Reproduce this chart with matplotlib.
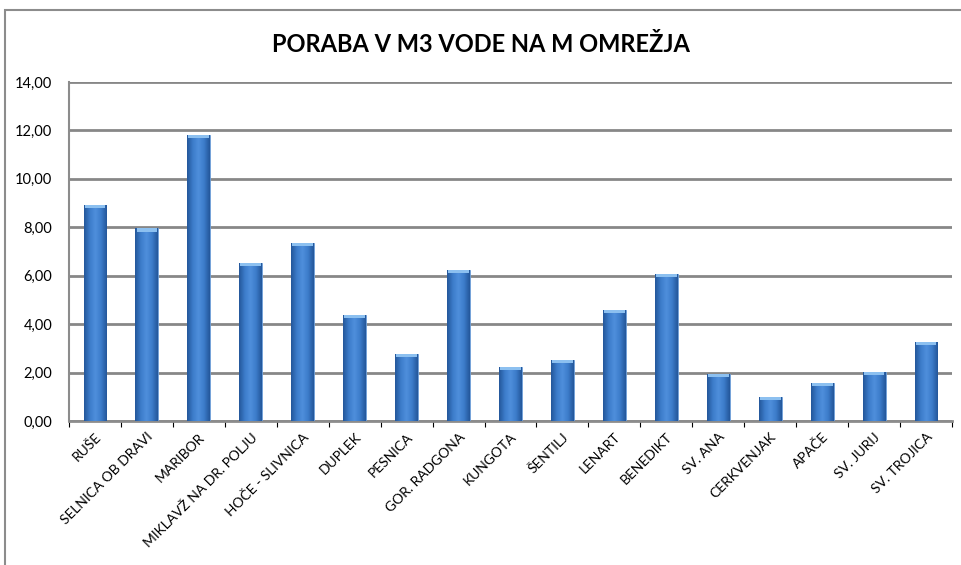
import numpy as np
from matplotlib import pyplot as plt
from matplotlib.patches import Rectangle
from matplotlib.colors import LinearSegmentedColormap

plt.rcParams['font.family'] = ['Lato', 'DejaVu Sans']

kraji = ['RUŠE', 'SELNICA OB DRAVI', 'MARIBOR', 'MIKLAVŽ NA DR. POLJU',
         'HOČE - SLIVNICA', 'DUPLEK', 'PESNICA', 'GOR. RADGONA', 'KUNGOTA',
         'ŠENTILJ', 'LENART', 'BENEDIKT', 'SV. ANA', 'CERKVENJAK', 'APAČE',
         'SV. JURIJ', 'SV. TROJICA']
poraba = [8.93, 7.95, 11.80, 6.52, 7.34, 4.37, 2.77, 6.24, 2.22,
          2.51, 4.57, 6.09, 1.93, 0.98, 1.56, 2.04, 3.25]
y_ticks = [0, 2, 4, 6, 8, 10, 12, 14]

# cylinder-like shading across the bar
cmap_bar = LinearSegmentedColormap.from_list(
    'bar', ['#24579a', '#3c7cca', '#4f8fdc', '#3c7cca', '#24579a'])
grad = np.linspace(0, 1, 64).reshape(1, -1)

fig = plt.figure(figsize=(9.61, 5.65), dpi=100)
# chart frame
fig.patches.append(Rectangle((5/961, -0.1), 1.2, 1 - 10/565 + 0.1,
                             transform=fig.transFigure, fill=False,
                             edgecolor='#8c8c8c', linewidth=1.5))
fig.text(0.5, 1 - 45/565, 'PORABA V M3 VODE NA M OMREŽJA', ha='center',
         va='center', fontsize=17, fontweight='bold')

ax = fig.add_axes([69/961, 1 - 421/565, (952 - 69)/961, (421 - 82)/565])
x = np.arange(len(kraji))
w = 0.44
bars = ax.bar(x, poraba, width=w, color='#3c7cca', edgecolor='#6f9fd8',
              linewidth=0.6, zorder=3)
for b, v in zip(bars, poraba):
    x0 = b.get_x()
    im = ax.imshow(grad, cmap=cmap_bar, aspect='auto', zorder=3.5,
                   extent=[x0, x0 + w, 0, v], interpolation='bicubic')
    im.set_clip_path(b)
    # light top cap
    ax.fill_between([x0 + 0.02, x0 + w - 0.02], v - 0.13, v,
                    color='#8cc0f0', zorder=4, linewidth=0)

ax.set_xlim(-0.5, len(kraji) - 0.5)
ax.set_ylim(0, 14)
ax.set_yticks(y_ticks)
ax.set_yticklabels([f'{t:.2f}'.replace('.', ',') for t in y_ticks], fontsize=10.5)
ax.yaxis.grid(True, color='#878787', linewidth=2, zorder=0)
ax.tick_params(axis='y', length=0, pad=12)
ax.set_xticks(x)
ax.set_xticklabels(kraji, rotation=45, ha='right', rotation_mode='anchor',
                   fontsize=10)
ax.tick_params(axis='x', length=0, pad=7)
ax.set_xticks(np.arange(len(kraji) + 1) - 0.5, minor=True)
ax.tick_params(axis='x', which='minor', length=4, color='black', width=0.8)
for s in ['top', 'right']:
    ax.spines[s].set_visible(False)
ax.spines['left'].set_color('#8c8c8c')
ax.spines['left'].set_linewidth(1.5)
ax.spines['bottom'].set_color('#8c8c8c')
ax.spines['bottom'].set_linewidth(2)

plt.savefig('out.png', dpi=100)
